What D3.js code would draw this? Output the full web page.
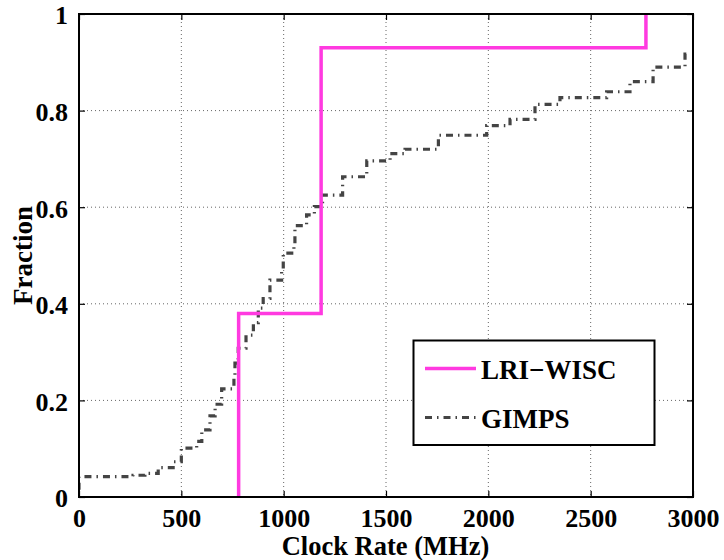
<!DOCTYPE html>
<html>
<head>
<meta charset="utf-8">
<script src="https://cdn.jsdelivr.net/npm/d3@7"></script>
<style>
  html, body { margin: 0; padding: 0; background: #fff; }
  svg text { font-family: "Liberation Serif", "Times New Roman", serif; font-weight: bold; fill: #000; }
</style>
</head>
<body>
<svg id="chart" width="724" height="560"></svg>
<script>
// Axis ticks
const xTicks = [0, 500, 1000, 1500, 2000, 2500, 3000];
const yTicks = [0, 0.2, 0.4, 0.6, 0.8, 1];

// LRI-WISC CDF (clock rate in MHz, cumulative fraction), step-after
const lriClock = [780, 780, 1183, 2770, 2770];
const lriFrac  = [0, 0.38, 0.93, 0.93, 1.0];

// GIMPS CDF (clock rate in MHz, cumulative fraction), step-after
const gimpsClock = [0, 0, 264, 322, 387, 460, 500, 575, 600, 640, 665, 697, 757, 762, 778, 816, 852, 876, 900, 933, 990, 998, 1050, 1055, 1112, 1150, 1190, 1288, 1406, 1520, 1593, 1756, 1992, 2106, 2228, 2350, 2578, 2692, 2805, 2961, 2980];
const gimpsFrac  = [0.015, 0.042, 0.045, 0.049, 0.061, 0.073, 0.101, 0.115, 0.139, 0.168, 0.192, 0.224, 0.245, 0.277, 0.308, 0.335, 0.361, 0.391, 0.411, 0.449, 0.470, 0.505, 0.525, 0.562, 0.584, 0.601, 0.625, 0.663, 0.696, 0.711, 0.720, 0.749, 0.769, 0.782, 0.813, 0.827, 0.839, 0.860, 0.890, 0.917, 0.920];

const seriesNames = ["LRI\u2212WISC", "GIMPS"];

const m = { left: 79, top: 14, right: 693, bottom: 497 };
const svg = d3.select("#chart");

const x = d3.scaleLinear().domain([0, 3000]).range([m.left, m.right]);
const y = d3.scaleLinear().domain([0, 1]).range([m.bottom, m.top]);

// dotted grid
const grid = svg.append("g");
grid.selectAll("line.gx").data(xTicks.slice(1, -1)).enter().append("line")
  .attr("x1", d => x(d)).attr("x2", d => x(d))
  .attr("y1", m.top).attr("y2", m.bottom)
  .attr("stroke", "#666").attr("stroke-width", 1).attr("stroke-dasharray", "1,3");
grid.selectAll("line.gy").data(yTicks.slice(1, -1)).enter().append("line")
  .attr("y1", d => y(d)).attr("y2", d => y(d))
  .attr("x1", m.left).attr("x2", m.right)
  .attr("stroke", "#666").attr("stroke-width", 1).attr("stroke-dasharray", "1,3");

svg.append("clipPath").attr("id", "plotclip").append("rect")
  .attr("x", m.left).attr("y", m.top - 2).attr("width", m.right - m.left).attr("height", m.bottom - m.top + 2);

const line = d3.line().x(d => x(d[0])).y(d => y(d[1])).curve(d3.curveStepAfter);

const gimps = d3.zip(gimpsClock, gimpsFrac);
const lri = d3.zip(lriClock, lriFrac);

const plot = svg.append("g").attr("clip-path", "url(#plotclip)");
plot.append("path").datum(gimps).attr("d", line)
  .attr("fill", "none").attr("stroke", "#444").attr("stroke-width", 3.2)
  .attr("stroke-dasharray", "7,5,1.5,5");
plot.append("path").datum(lri).attr("d", line)
  .attr("fill", "none").attr("stroke", "#ff3ae0").attr("stroke-width", 3.5);

// axes (ticks inward, mirrored on top/right)
const fs = 26;
const xAxisB = d3.axisBottom(x).tickValues(xTicks).tickSize(-6).tickPadding(9).tickFormat(d3.format("d"));
const xAxisT = d3.axisTop(x).tickValues(xTicks).tickSize(-6).tickFormat("");
const yAxisL = d3.axisLeft(y).tickValues(yTicks).tickSize(-6).tickPadding(11).tickFormat(d => d3.format("")(d));
const yAxisR = d3.axisRight(y).tickValues(yTicks).tickSize(-6).tickFormat("");

function style(g) {
  g.select(".domain").remove();
  g.selectAll(".tick line").attr("stroke", "#000").attr("stroke-width", 1.2);
  g.selectAll("text").attr("font-size", fs).attr("font-family", "Liberation Serif").attr("font-weight", "bold");
}
svg.append("g").attr("transform", `translate(0,${m.bottom})`).call(xAxisB).call(style)
  .selectAll("text").attr("dy", "0.82em");
svg.append("g").attr("transform", `translate(0,${m.top})`).call(xAxisT).call(style);
svg.append("g").attr("transform", `translate(${m.left},0)`).call(yAxisL).call(style)
  .selectAll("text").attr("dy", "0.38em");
svg.append("g").attr("transform", `translate(${m.right},0)`).call(yAxisR).call(style);

// frame
svg.append("rect").attr("x", m.left).attr("y", m.top)
  .attr("width", m.right - m.left).attr("height", m.bottom - m.top)
  .attr("fill", "none").attr("stroke", "#000").attr("stroke-width", 2);

// axis titles
svg.append("text").attr("x", (m.left + m.right) / 2 - 0.5).attr("y", 555)
  .attr("text-anchor", "middle").attr("font-size", 26.5).text("Clock Rate (MHz)");
svg.append("text").attr("transform", `translate(32,${(m.top + m.bottom) / 2}) rotate(-90)`)
  .attr("text-anchor", "middle").attr("font-size", 27).text("Fraction");

// legend
const lg = svg.append("g");
lg.append("rect").attr("x", 413.5).attr("y", 340.5).attr("width", 241).attr("height", 104.5)
  .attr("fill", "#fff").attr("stroke", "#000").attr("stroke-width", 2);
const styles = [
  { stroke: "#ff3ae0", w: 3.5, dash: null },
  { stroke: "#444", w: 3.2, dash: "7,5,1.5,5" }
];
seriesNames.forEach((name, i) => {
  const ly = 368.5 + i * 49;
  lg.append("line").attr("x1", 425).attr("x2", 476).attr("y1", ly).attr("y2", ly)
    .attr("stroke", styles[i].stroke).attr("stroke-width", styles[i].w)
    .attr("stroke-dasharray", styles[i].dash);
  lg.append("text").attr("x", 481).attr("y", ly + 10).attr("font-size", 27).text(name);
});
</script>
</body>
</html>
